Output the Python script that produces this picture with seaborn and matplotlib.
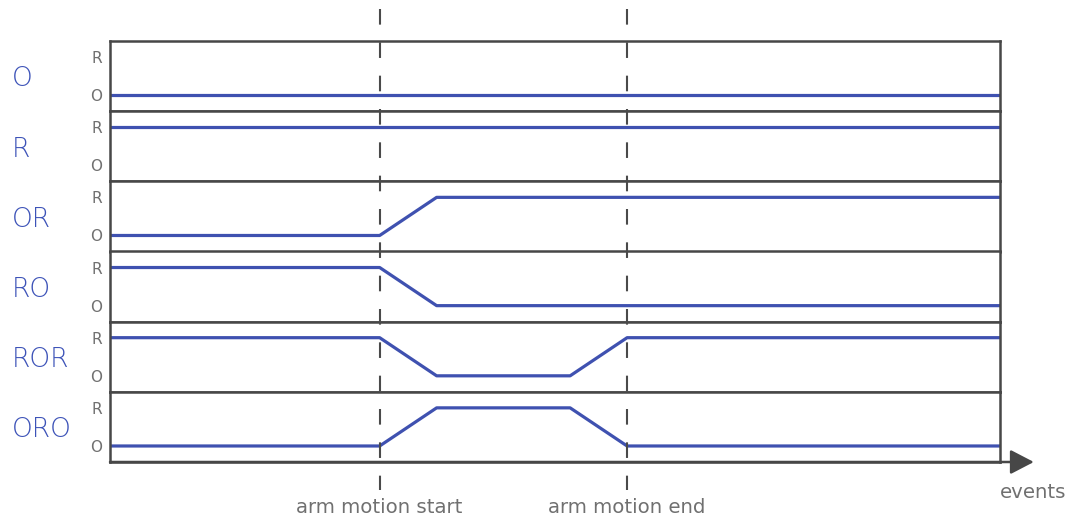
import matplotlib
matplotlib.use("Agg")
import matplotlib.pyplot as plt
import matplotlib.transforms as mtransforms
from matplotlib.lines import Line2D
import seaborn as sns
import pandas as pd

# ---- data ----
t = [0.0, 3.03, 3.67, 5.17, 5.81, 10.0]
series_names = ["O", "R", "OR", "RO", "ROR", "ORO"]
O = [0, 0, 0, 0, 0, 0]
R = [1, 1, 1, 1, 1, 1]
OR = [0, 0, 1, 1, 1, 1]
RO = [1, 1, 0, 0, 0, 0]
ROR = [1, 1, 0, 0, 1, 1]
ORO = [0, 0, 1, 1, 0, 0]
level_ticks = [0, 1]
level_labels = ["O", "R"]
events = [3.03, 5.81]
event_labels = ["arm motion start", "arm motion end"]
axis_label = "events"

values = {"O": O, "R": R, "OR": OR, "RO": RO, "ROR": ROR, "ORO": ORO}

sns.set_style("white")
plt.rcParams['font.family'] = ['DejaVu Sans']

BLUE = "#3f51b0"
LABEL_BLUE = "#3d53b8"
SPINE = "#474747"
GRAY = "#707070"

fig, axes = plt.subplots(6, 1, sharex=True, figsize=(10.72, 5.17), dpi=100,
                         gridspec_kw=dict(hspace=0))
fig.subplots_adjust(left=110/1072, right=1000/1072, top=1-41/517, bottom=1-462/517)

for ax, name in zip(axes, series_names):
    df = pd.DataFrame({"t": t, "level": values[name]})
    sns.lineplot(data=df, x="t", y="level", ax=ax, color=BLUE, lw=2.3,
                 estimator=None, sort=True)
    ax.set_xlim(0, 10)
    ax.set_ylim(-0.42, 1.42)
    ax.set_yticks(level_ticks)
    ax.set_yticklabels(level_labels)
    ax.tick_params(axis="y", length=0, pad=5.5, labelsize=11, labelcolor=GRAY)
    ax.tick_params(axis="x", length=0)
    ax.set_xlabel("")
    ax.set_ylabel("")
    for s in ax.spines.values():
        s.set_visible(True)
        s.set_color(SPINE)
        s.set_linewidth(1.8)
    tr = mtransforms.blended_transform_factory(fig.transFigure, ax.transAxes)
    ax.text(12/1072, 0.46, name, transform=tr, ha="left", va="center",
            fontsize=19, color=LABEL_BLUE, fontweight="light")

bottom = axes[-1]
bottom.set_xticks(events)
bottom.set_xticklabels(event_labels)
bottom.tick_params(axis="x", length=0, pad=26, labelsize=14.2, labelcolor=GRAY)
for ax in axes[:-1]:
    ax.tick_params(axis="x", labelbottom=False)

# arrow on time axis
bottom.annotate("", xy=(1.038, 0), xytext=(0, 0), xycoords="axes fraction",
                textcoords="axes fraction",
                arrowprops=dict(arrowstyle="-|>,head_length=1.0,head_width=0.52",
                                mutation_scale=14.4, lw=1.8, color=SPINE,
                                shrinkA=0, shrinkB=0))
bottom.text(1.0, 1 - 492/517, axis_label,
            transform=mtransforms.blended_transform_factory(bottom.transAxes, fig.transFigure),
            ha="left", va="center", fontsize=14.2, color=GRAY)

# dashed event lines spanning the whole stack
trv = mtransforms.blended_transform_factory(bottom.transData, fig.transFigure)
for ev in events:
    ln = Line2D([ev, ev], [1 - 9/517, 1 - 490/517], transform=trv,
                color="#4a4a4a", lw=1.5, linestyle=(0, (7.5, 8.5)),
                dash_capstyle="butt", zorder=5)
    fig.add_artist(ln)

fig.savefig("out.png", dpi=100)
